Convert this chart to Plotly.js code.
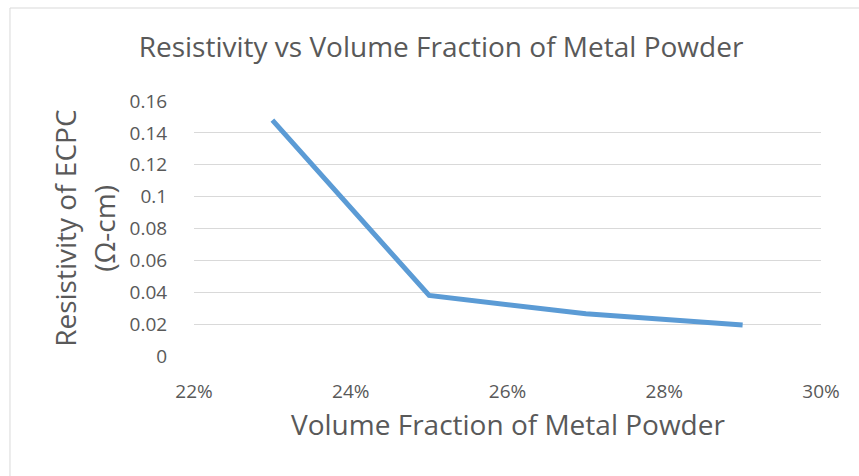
<!DOCTYPE html>
<html>
<head>
<meta charset="utf-8">
<script src="https://cdn.plot.ly/plotly-3.0.1.min.js"></script>
<style>html,body{margin:0;padding:0;background:#fff;}#chart{width:859px;height:476px;}</style>
</head>
<body>
<div id="chart"></div>
<script>
var volumeFraction = [0.23, 0.25, 0.27, 0.29];
var resistivity = [0.148, 0.038, 0.0265, 0.0195];
var xTickVals = [0.22, 0.24, 0.26, 0.28, 0.30];
var xTickText = ['22%', '24%', '26%', '28%', '30%'];
var yTickVals = [0, 0.02, 0.04, 0.06, 0.08, 0.1, 0.12, 0.14, 0.16];
var yTickText = ['0', '0.02', '0.04', '0.06', '0.08', '0.1', '0.12', '0.14', '0.16'];
var chartTitle = 'Resistivity vs Volume Fraction of Metal Powder';
var xTitle = 'Volume Fraction of Metal Powder';
var yTitleLines = ['Resistivity of ECPC', '(Ω-cm)'];

var FONT = '"Open Sans", sans-serif';
var TXT = '#595959';

var trace = {
  x: volumeFraction,
  y: resistivity,
  type: 'scatter',
  mode: 'lines',
  line: {color: '#5B9BD5', width: 5, shape: 'linear'},
  hoverinfo: 'skip'
};

var layout = {
  width: 859,
  height: 476,
  margin: {l: 194, r: 38, t: 101, b: 120, pad: 0},
  paper_bgcolor: '#ffffff',
  plot_bgcolor: '#ffffff',
  showlegend: false,
  font: {family: FONT, color: TXT},
  title: {
    text: chartTitle,
    font: {family: FONT, size: 28, color: TXT},
    x: 0.5134, xref: 'container', xanchor: 'center',
    y: 0.901, yref: 'container', yanchor: 'middle'
  },
  xaxis: {
    range: [0.22, 0.30],
    tickvals: xTickVals,
    ticktext: xTickText,
    tickfont: {family: FONT, size: 19, color: TXT},
    showgrid: false,
    zeroline: false,
    showline: false,
    ticks: 'outside',
    tickcolor: 'rgba(0,0,0,0)',
    ticklen: 18,
    automargin: false
  },
  yaxis: {
    range: [0, 0.16],
    tickvals: yTickVals,
    ticktext: yTickText,
    tickfont: {family: FONT, size: 19, color: TXT},
    showgrid: true,
    gridcolor: '#D9D9D9',
    gridwidth: 1,
    zeroline: false,
    showline: false,
    ticks: 'outside',
    tickcolor: 'rgba(0,0,0,0)',
    ticklen: 22,
    automargin: false
  },
  annotations: [
    {text: xTitle, xref: 'paper', yref: 'paper', x: 0.5, y: -0.267, xanchor: 'center', yanchor: 'middle', showarrow: false, font: {family: FONT, size: 28, color: TXT}},
    {text: yTitleLines[0], xref: 'paper', yref: 'paper', x: -0.2068, y: 0.5, xanchor: 'center', yanchor: 'middle', textangle: -90, showarrow: false, font: {family: FONT, size: 28, color: TXT}},
    {text: yTitleLines[1], xref: 'paper', yref: 'paper', x: -0.1447, y: 0.5, xanchor: 'center', yanchor: 'middle', textangle: -90, showarrow: false, font: {family: FONT, size: 28, color: TXT}}
  ],
  shapes: [
    {type: 'line', xref: 'paper', yref: 'paper', x0: -0.2935, x1: 1.1, y0: 1.3647, y1: 1.3647, line: {color: '#D9D9D9', width: 1}},
    {type: 'line', xref: 'paper', yref: 'paper', x0: -0.2935, x1: -0.2935, y0: 1.3647, y1: -0.5, line: {color: '#D9D9D9', width: 1}}
  ]
};

Plotly.newPlot('chart', [trace], layout, {displayModeBar: false, staticPlot: true});
</script>
</body>
</html>
